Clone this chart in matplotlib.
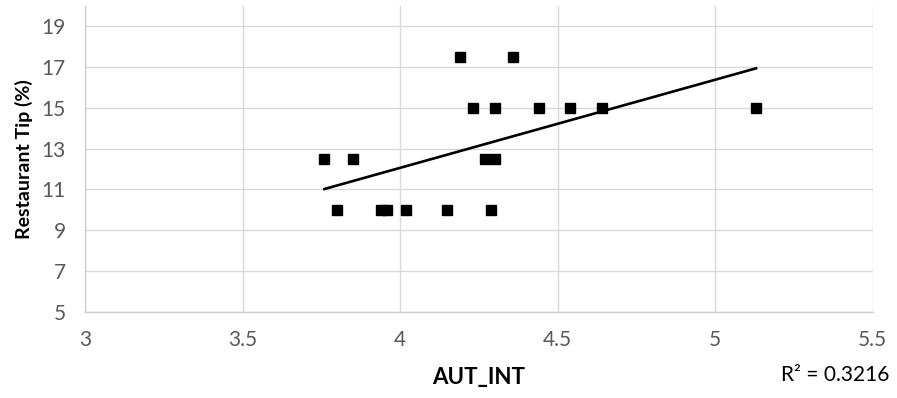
import matplotlib
matplotlib.use("Agg")
import matplotlib.pyplot as plt
import numpy as np

# AUT_INT score vs restaurant tip
aut_int = [3.76, 3.85, 3.80, 3.94, 3.96, 4.02, 4.15, 4.19, 4.23, 4.36,
           4.30, 4.44, 4.54, 4.64, 4.27, 4.30, 4.29, 5.13]
tip_pct = [12.5, 12.5, 10, 10, 10, 10, 10, 17.5, 15, 17.5,
           15, 15, 15, 15, 12.5, 12.5, 10, 15]

x_ticks = [3, 3.5, 4, 4.5, 5, 5.5]
x_tick_labels = ["3", "3.5", "4", "4.5", "5", "5.5"]
y_ticks = [5, 7, 9, 11, 13, 15, 17, 19]
r2_label = "R\u00b2 = 0.3216"

plt.rcParams['font.family'] = ['Lato', 'DejaVu Sans']

fig = plt.figure(figsize=(8.97, 3.98), dpi=100)
ax = fig.add_axes([0.0948, 0.216, 0.878, 0.770])

x = np.array(aut_int)
y = np.array(tip_pct)
ax.plot(x, y, linestyle='none', marker='s', markersize=7, color='black', zorder=3)

# linear trend line
slope, icpt = np.polyfit(x, y, 1)
xs = np.array([x.min(), x.max()])
ax.plot(xs, slope * xs + icpt, color='black', lw=1.9, zorder=2)

ax.set_xlim(3, 5.5)
ax.set_ylim(5, 20)
ax.set_xticks(x_ticks)
ax.set_xticklabels(x_tick_labels)
ax.set_yticks(y_ticks)

ax.grid(True, color='#d9d9d9', lw=1.0)
ax.set_axisbelow(True)
for s in ['top', 'right']:
    ax.spines[s].set_visible(False)
for s in ['left', 'bottom']:
    ax.spines[s].set_color('#d0d0d0')
    ax.spines[s].set_linewidth(1.0)

ax.tick_params(length=0, labelsize=15, labelcolor='#595959')
ax.tick_params(axis='x', pad=13)
ax.tick_params(axis='y', pad=14)

ax.set_ylabel("Restaurant Tip (%)", fontsize=14, fontweight='bold', labelpad=6)
ax.set_xlabel("AUT_INT", fontsize=16, fontweight='bold', labelpad=12)
fig.text(0.871, 0.058, r2_label, fontsize=15, ha='left', va='center', color='black')

fig.savefig("out.png", dpi=100)
